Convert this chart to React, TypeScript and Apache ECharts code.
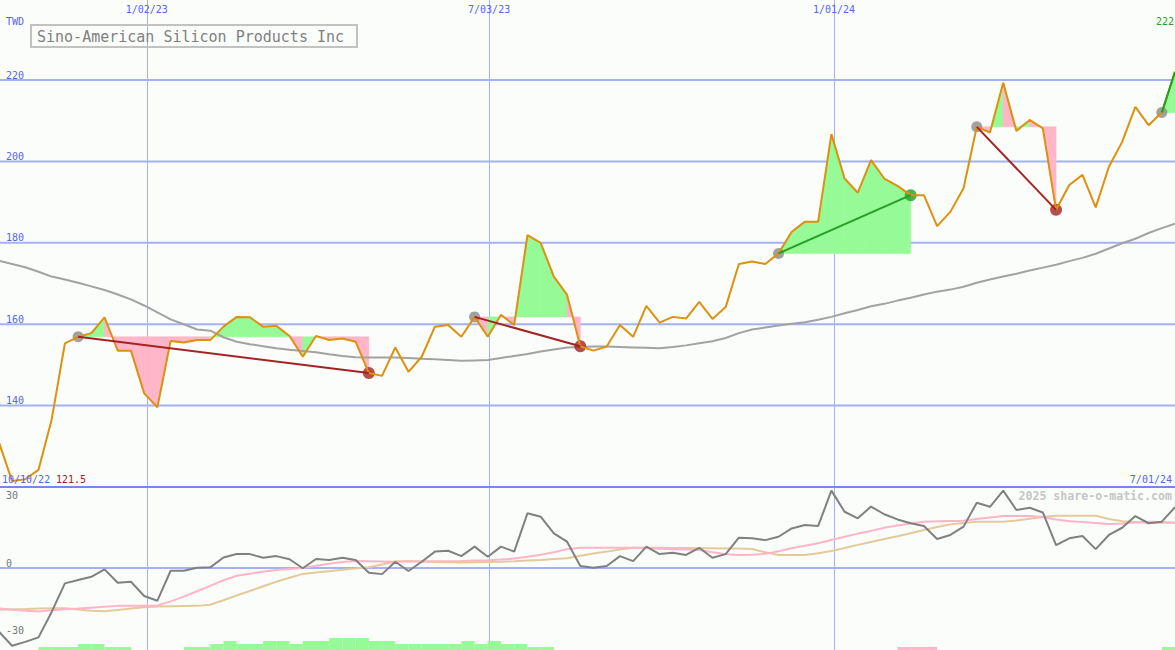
import { useEffect, useRef } from 'react';
import * as echarts from 'echarts';

// ---------- data (weekly points, index 1..90) ----------
const FIRST_INDEX = 1;
const X_MIN = 1.09;
const X_MAX = 90;

const price = [
  131.1, 121.5, 121.9, 124.2, 136.6, 155.3, 156.9, 157.8, 161.7, 153.5,
  153.5, 143.0, 139.6, 155.9, 155.5, 156.1, 156.1, 159.4, 161.8, 161.7,
  159.4, 159.6, 157.1, 152.0, 157.1, 156.1, 156.5, 155.7, 148.0, 147.3,
  154.3, 148.3, 152.0, 159.4, 159.8, 156.9, 161.8, 156.9, 162.3, 159.8,
  181.9, 180.0, 171.7, 167.2, 154.6, 153.5, 154.5, 159.8, 156.9, 164.5,
  160.4, 161.8, 161.4, 165.5, 161.3, 164.2, 174.8, 175.4, 174.8, 177.4,
  182.7, 185.2, 185.2, 206.7, 195.8, 192.3, 200.3, 195.8, 194.0, 191.7,
  191.7, 184.1, 187.6, 193.4, 208.5, 207.1, 219.3, 207.5, 210.2, 208.1,
  188.1, 194.2, 196.7, 188.7, 198.7, 204.8, 213.4, 208.9, 212.0, 222,
];

const movingAvg = [
  175.6, 174.8, 174.0, 172.9, 171.7, 171.0, 170.2, 169.3, 168.4, 167.3,
  166.1, 164.6, 162.9, 161.2, 160.0, 158.7, 158.4, 156.8, 155.7, 155.1,
  154.6, 154.1, 153.7, 153.4, 153.1, 152.6, 152.2, 151.9, 151.8, 151.8,
  151.8, 151.7, 151.5, 151.4, 151.2, 151.0, 151.1, 151.2, 151.7, 152.2,
  152.7, 153.3, 153.8, 154.3, 154.4, 154.5, 154.5, 154.4, 154.3, 154.2,
  154.1, 154.4, 154.8, 155.3, 155.8, 156.6, 157.8, 158.7, 159.2, 159.7,
  160.1, 160.5, 161.1, 161.8, 162.7, 163.5, 164.4, 165.0, 165.8, 166.5,
  167.3, 168.0, 168.5, 169.2, 170.2, 171.0, 171.7, 172.4, 173.2, 173.9,
  174.6, 175.5, 176.3, 177.3, 178.6, 179.9, 181.0, 182.4, 183.6, 184.7,
];

const oscillator = [
  -28.2, -34.5, -32.8, -30.8, -19.5, -6.8, -5.3, -3.9, -0.6, -6.5,
  -6.1, -12.4, -14.5, -1.2, -1.2, 0.1, 0.3, 4.7, 6.2, 6.2,
  4.6, 5.3, 3.9, -0.1, 4.0, 3.6, 4.6, 3.6, -2.1, -2.7,
  2.8, -1.3, 2.8, 7.3, 7.7, 5.3, 9.5, 5.0, 9.5, 7.3,
  24.3, 22.8, 15.4, 11.7, 0.9, 0.1, 0.9, 5.3, 3.1, 9.5,
  6.2, 6.8, 5.8, 9.0, 4.6, 6.2, 13.5, 13.2, 12.4, 13.9,
  17.6, 19.1, 18.7, 34.4, 25.0, 22.1, 27.3, 23.9, 21.6, 19.9,
  18.7, 12.9, 14.7, 18.4, 29.0, 27.2, 34.4, 25.8, 26.8, 24.7,
  10.2, 13.2, 14.2, 8.4, 14.7, 17.9, 23.1, 19.9, 20.6, 27.0,
];

const oscPink = [
  -17.9, -18.5, -19.0, -19.3, -18.7, -18.3, -18.0, -17.6, -17.2, -16.8,
  -16.8, -16.8, -16.7, -14.8, -12.7, -10.3, -7.9, -5.4, -3.4, -2.5,
  -1.6, -0.9, -0.4, 0.0, 1.0, 1.9, 2.7, 3.1, 3.0, 2.9,
  2.8, 2.9, 2.9, 3.0, 3.0, 3.1, 3.3, 3.5, 3.8, 4.2,
  5.0, 5.9, 7.0, 8.4, 9.0, 9.0, 9.0, 9.0, 9.0, 8.8,
  8.6, 8.4, 8.2, 8.0, 7.0, 6.1, 5.8, 5.9, 6.3, 7.5,
  8.8, 9.9, 11.0, 12.5, 13.9, 15.3, 16.5, 17.9, 18.9, 19.8,
  20.6, 20.8, 20.9, 21.0, 21.8, 22.5, 23.1, 23.1, 23.1, 22.7,
  21.6, 20.8, 20.4, 20.0, 19.6, 19.8, 20.2, 20.6, 20.4, 20.1,
];

const oscTan = [
  -18.4, -18.3, -18.2, -18.0, -17.9, -17.9, -18.4, -19.0, -19.2, -18.6,
  -18.0, -17.4, -17.1, -17.0, -16.9, -16.8, -16.3, -14.3, -12.2, -10.2,
  -8.1, -6.1, -4.3, -2.6, -2.0, -1.4, -0.8, -0.2, 0.4, 1.6,
  2.9, 3.1, 2.9, 2.7, 2.6, 2.5, 2.6, 2.7, 2.8, 3.0,
  3.3, 3.6, 4.0, 4.4, 5.5, 6.5, 7.3, 8.2, 9.0, 9.0,
  9.0, 8.9, 8.9, 8.8, 8.8, 8.7, 8.7, 8.5, 7.0, 5.8,
  5.8, 5.8, 6.6, 7.6, 8.9, 10.3, 11.6, 12.9, 14.1, 15.5,
  16.9, 18.2, 19.4, 20.0, 20.6, 20.6, 20.6, 21.1, 21.9, 22.7,
  23.2, 23.2, 23.2, 23.2, 21.8, 20.8, 20.4, 20.1, 20.1, 20.1,
];

const histIndex = [4, 5, 6, 7, 8, 9, 10, 15, 16, 17, 18, 19, 20, 21, 22, 23, 24, 25, 26, 27, 28, 29, 30, 31, 32, 33, 34, 35, 36, 37, 38, 39, 40, 41, 42, 69, 70, 71, 89];
const histValue = [1, 1, 1, 2, 2, 1, 1, 1, 1, 2, 3, 2, 2, 3, 3, 2, 3, 3, 4, 4, 4, 3, 3, 2, 2, 2, 2, 2, 3, 2, 3, 2, 2, 1, 1, -1, -1, -1, 1];

const tradeStart = [7, 37, 60, 75, 89];
const tradeEnd = [29, 45, 70, 81, 90];
const tradeOpen = [false, false, false, false, true];

const dateTickPos = [12.2, 38.1, 64.2];
const dateTickLabels = ['1/02/23', '7/03/23', '1/01/24'];
const firstDateLabel = '10/10/22';
const lastDateLabel = '7/01/24';
const priceGridValues = [140, 160, 180, 200, 220];
const oscLabelValues = [-30, 0, 30];
const oscGridValues = [0];
const currency = 'TWD';
const title = 'Sino-American Silicon Products Inc';
const watermark = '2025 share-o-matic.com';

// ---------- styles ----------
const FONT = 'DejaVu Sans Mono';
const BG = '#fbfdfb';
const BLUE = '#5565ee';
const GRID = '#a4b2f2';
const SEP = '#7686ee';
const ORANGE = '#de900e';
const MA_GRAY = '#a2a2a2';
const GREEN_FILL = '#96fa96';
const PINK_FILL = '#ffb6c8';
const RED = '#a52222';
const GREEN = '#22a022';

const priceAt = (i: number) => price[i - FIRST_INDEX];
const pts = (arr: number[]) => arr.map((v, k) => [k + FIRST_INDEX, v]);

function buildOption(): any {
  const fillData: number[][] = [];
  tradeStart.forEach((s, t) => {
    const level = priceAt(s);
    for (let i = s; i < tradeEnd[t]; i++) {
      fillData.push([i, priceAt(i), priceAt(i + 1), level, priceAt(i + 1) >= level ? 1 : 0]);
    }
  });

  const hLines = (xi: number, yi: number, values: number[], color: string, width: number, z: number) => ({
    type: 'custom', xAxisIndex: xi, yAxisIndex: yi, silent: true, z,
    data: values.map((v) => [v]),
    encode: { y: 0 },
    renderItem: (params: any, api: any) => {
      const cs = params.coordSys;
      const y = api.coord([X_MIN, api.value(0)])[1];
      return { type: 'line', shape: { x1: cs.x, y1: y, x2: cs.x + cs.width, y2: y }, style: { stroke: color, lineWidth: width } };
    },
  });
  const vLines = (xi: number, yi: number) => ({
    type: 'custom', xAxisIndex: xi, yAxisIndex: yi, silent: true, z: 0,
    data: dateTickPos.map((v) => [v]),
    encode: { x: 0 },
    renderItem: (params: any, api: any) => {
      const cs = params.coordSys;
      const x = Math.round(api.coord([api.value(0), 0])[0]) + 0.5;
      return { type: 'line', shape: { x1: x, y1: cs.y, x2: x, y2: cs.y + cs.height }, style: { stroke: GRID, lineWidth: 1 } };
    },
  });

  const tradeLines = tradeStart.map((s, t) => {
    const e = tradeEnd[t];
    const gain = priceAt(e) >= priceAt(s);
    return {
      type: 'line', xAxisIndex: 0, yAxisIndex: 0, silent: true, z: 6,
      data: [[s, priceAt(s)], [e, priceAt(e)]],
      symbol: 'none',
      lineStyle: { color: gain ? GREEN : RED, width: 2 },
    };
  });

  const endMarkers = tradeStart
    .map((s, t) => ({ s, e: tradeEnd[t], open: tradeOpen[t] }))
    .filter((d) => !d.open)
    .map((d) => ({ value: [d.e, priceAt(d.e)], itemStyle: { color: priceAt(d.e) >= priceAt(d.s) ? GREEN : RED } }));

  const minPrice = Math.min(...price);
  const lastPrice = price[price.length - 1];

  const txt = (text: string, x: number, y: number, color: string, size: number, align = 'left', weight = 'normal') => ({
    type: 'text', x, y, z: 100, silent: true,
    style: { text, fill: color, fontFamily: FONT, fontSize: size, fontWeight: weight, align, verticalAlign: 'middle' },
  });

  return {
    animation: false,
    backgroundColor: BG,
    grid: [
      { left: 0, right: 0, top: 0, height: 487, outerBoundsMode: 'none', containLabel: false },
      { left: 0, right: 0, top: 487, height: 163, outerBoundsMode: 'none', containLabel: false },
    ],
    xAxis: [
      {
        type: 'value', gridIndex: 0, min: X_MIN, max: X_MAX, position: 'top',
        axisLine: { show: false }, axisTick: { show: false }, splitLine: { show: false },
        axisLabel: {
          inside: true, margin: 4, customValues: dateTickPos, color: BLUE, fontFamily: FONT, fontSize: 10,
          formatter: (v: number) => {
            const k = dateTickPos.findIndex((p) => Math.abs(p - v) < 0.01);
            return k >= 0 ? dateTickLabels[k] : '';
          },
        },
      },
      { type: 'value', gridIndex: 1, min: X_MIN, max: X_MAX, show: false },
    ],
    yAxis: [
      {
        type: 'value', gridIndex: 0, min: 120, max: 239.66, position: 'left',
        axisLine: { show: false }, axisTick: { show: false }, splitLine: { show: false },
        axisLabel: {
          inside: true, margin: 6, customValues: priceGridValues, color: BLUE, fontFamily: FONT, fontSize: 10,
          verticalAlign: 'bottom', align: 'left',
        },
      },
      {
        type: 'value', gridIndex: 1, min: -36.4, max: 36, position: 'left',
        axisLine: { show: false }, axisTick: { show: false }, splitLine: { show: false },
        axisLabel: {
          inside: true, margin: 6, customValues: oscLabelValues, color: '#777777', fontFamily: FONT, fontSize: 10,
          verticalAlign: 'bottom', align: 'left',
        },
      },
      { type: 'value', gridIndex: 1, min: 0, max: 54, show: false },
    ],
    series: [
      hLines(0, 0, priceGridValues, GRID, 2, 0),
      vLines(0, 0),
      vLines(1, 1),
      hLines(1, 1, oscGridValues, GRID, 2, 0),
      hLines(0, 0, [120], SEP, 2, 7),
      {
        type: 'custom', xAxisIndex: 0, yAxisIndex: 0, silent: true, z: 1,
        data: fillData,
        encode: { x: 0, y: 1 },
        renderItem: (params: any, api: any) => {
          const i = api.value(0);
          const lv = api.value(3);
          const col = api.value(4) ? GREEN_FILL : PINK_FILL;
          const pts4 = [
            api.coord([i, lv]), api.coord([i, api.value(1)]),
            api.coord([i + 1, api.value(2)]), api.coord([i + 1, lv]),
          ];
          return { type: 'polygon', shape: { points: pts4 }, style: { fill: col, stroke: col, lineWidth: 0.6 } };
        },
      },
      {
        type: 'line', xAxisIndex: 0, yAxisIndex: 0, silent: true, z: 2,
        data: pts(movingAvg), symbol: 'none', lineStyle: { color: MA_GRAY, width: 2 },
      },
      {
        type: 'scatter', xAxisIndex: 0, yAxisIndex: 0, silent: true, z: 3,
        data: tradeStart.map((s) => [s, priceAt(s)]), symbolSize: 11, itemStyle: { color: '#8a8a8a' },
      },
      {
        type: 'scatter', xAxisIndex: 0, yAxisIndex: 0, silent: true, z: 3,
        data: endMarkers, symbolSize: 12,
      },
      {
        type: 'line', xAxisIndex: 0, yAxisIndex: 0, silent: true, z: 4,
        data: pts(price), symbol: 'none', lineStyle: { color: ORANGE, width: 2 },
      },
      ...tradeLines,
      {
        type: 'custom', xAxisIndex: 1, yAxisIndex: 2, silent: true, z: 1,
        data: histIndex.map((i, k) => [i, histValue[k]]),
        encode: { x: 0, y: 1 },
        renderItem: (params: any, api: any) => {
          const i = api.value(0);
          const v = api.value(1);
          const a = api.coord([i, 0]);
          const b = api.coord([i + 1, Math.abs(v)]);
          return {
            type: 'rect',
            shape: { x: a[0], y: b[1], width: b[0] - a[0], height: a[1] - b[1] },
            style: { fill: v >= 0 ? GREEN_FILL : PINK_FILL },
          };
        },
      },
      {
        type: 'line', xAxisIndex: 1, yAxisIndex: 1, silent: true, z: 2,
        data: pts(oscTan), symbol: 'none', lineStyle: { color: '#e4ca9a', width: 2 },
      },
      {
        type: 'line', xAxisIndex: 1, yAxisIndex: 1, silent: true, z: 3,
        data: pts(oscPink), symbol: 'none', lineStyle: { color: '#ffb4c8', width: 2 },
      },
      {
        type: 'line', xAxisIndex: 1, yAxisIndex: 1, silent: true, z: 4,
        data: pts(oscillator), symbol: 'none', lineStyle: { color: '#808080', width: 2 },
      },
    ],
    graphic: [
      txt(currency, 6, 21, BLUE, 10),
      {
        type: 'rect', z: 100, silent: true,
        shape: { x: 31, y: 25, width: 326, height: 22 },
        style: { fill: 'transparent', stroke: '#c2c2c2', lineWidth: 2 },
      },
      txt(title, 37, 36.5, '#808080', 15),
      txt(firstDateLabel, 2, 479, BLUE, 10),
      txt(minPrice.toFixed(1), 56, 479, RED, 10),
      txt(lastDateLabel, 1172, 479, BLUE, 10, 'right'),
      txt(String(lastPrice), 1174, 21, GREEN, 10, 'right'),
      txt(watermark, 1172, 496, '#c6c6c6', 11.6, 'right', 'bold'),
    ],
  };
}

export default function App() {
  const ref = useRef<HTMLDivElement>(null);
  useEffect(() => {
    document.body.style.margin = '0';
    document.body.style.background = BG;
    const chart = echarts.init(ref.current!, null, { renderer: 'svg' });
    chart.setOption(buildOption());
    return () => chart.dispose();
  }, []);
  return <div ref={ref} style={{ position: 'fixed', left: 0, top: 0, width: 1175, height: 650 }} />;
}
